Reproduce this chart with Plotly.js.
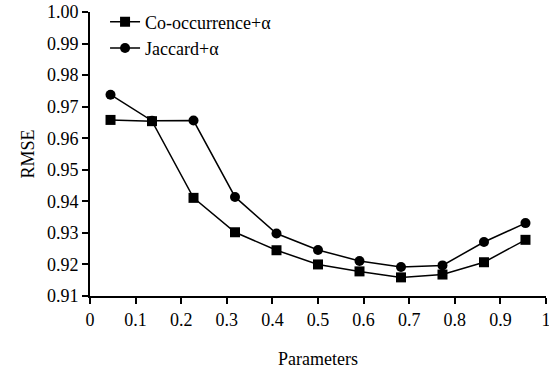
<!DOCTYPE html>
<html>
<head>
<meta charset="utf-8">
<script src="https://cdn.plot.ly/plotly-3.0.1.min.js"></script>
<style>html,body{margin:0;padding:0;background:#fff;}#chart{width:549px;height:369px;}</style>
</head>
<body>
<div id="chart"></div>
<script>
const params = [0.045, 0.136, 0.227, 0.318, 0.409, 0.5, 0.591, 0.682, 0.773, 0.864, 0.955];
const coOccurrence = [0.9658, 0.9654, 0.9411, 0.9302, 0.9245, 0.9200, 0.9178, 0.9159, 0.9168, 0.9207, 0.9278];
const jaccard = [0.9738, 0.9655, 0.9656, 0.9414, 0.9298, 0.9246, 0.9211, 0.9192, 0.9197, 0.9271, 0.9331];
const seriesNames = ['Co-occurrence+\u03b1', 'Jaccard+\u03b1'];
const xTickVals = [0, 0.1, 0.2, 0.3, 0.4, 0.5, 0.6, 0.7, 0.8, 0.9, 1];
const xTickText = ['0', '0.1', '0.2', '0.3', '0.4', '0.5', '0.6', '0.7', '0.8', '0.9', '1'];
const yTickVals = [0.91, 0.92, 0.93, 0.94, 0.95, 0.96, 0.97, 0.98, 0.99, 1.00];
const yTickText = ['0.91', '0.92', '0.93', '0.94', '0.95', '0.96', '0.97', '0.98', '0.99', '1.00'];

const FONT = 'Liberation Serif';

const traces = [
  {x: params, y: coOccurrence, name: seriesNames[0], mode: 'lines+markers', type: 'scatter',
   line: {color: '#000', width: 1.5}, marker: {symbol: 'square', size: 10, color: '#000'}},
  {x: params, y: jaccard, name: seriesNames[1], mode: 'lines+markers', type: 'scatter',
   line: {color: '#000', width: 1.5}, marker: {symbol: 'circle', size: 10, color: '#000'}}
];

const layout = {
  width: 549, height: 369,
  margin: {l: 90, r: 3, t: 12, b: 73},
  paper_bgcolor: '#fff', plot_bgcolor: '#fff',
  font: {family: FONT, size: 18, color: '#000'},
  showlegend: true,
  legend: {x: 0.033, y: 1.03, xanchor: 'left', yanchor: 'top', bgcolor: 'rgba(0,0,0,0)',
           font: {family: FONT, size: 18, color: '#000'}, tracegroupgap: 0, itemwidth: 30},
  xaxis: {
    range: [0, 1], tickmode: 'array', tickvals: xTickVals, ticktext: xTickText,
    showgrid: false, zeroline: false, showline: true, linecolor: '#000', linewidth: 2,
    ticks: 'outside', ticklen: 6, tickwidth: 2, tickcolor: '#000',
    ticklabeloverflow: 'allow',
    tickfont: {family: FONT, size: 18, color: '#000'},
    title: {text: 'Parameters', font: {family: FONT, size: 18, color: '#000'}, standoff: 25},
    automargin: false
  },
  yaxis: {
    range: [0.91, 1.0], tickmode: 'array', tickvals: yTickVals, ticktext: yTickText,
    showgrid: false, zeroline: false, showline: true, linecolor: '#000', linewidth: 2,
    ticks: 'outside', ticklen: 6, tickwidth: 2, tickcolor: '#000',
    tickfont: {family: FONT, size: 18, color: '#000'},
    title: {text: 'RMSE', font: {family: FONT, size: 18, color: '#000'}, standoff: 8},
    automargin: false
  }
};

Plotly.newPlot('chart', traces, layout, {displayModeBar: false, staticPlot: true});
</script>
</body>
</html>
